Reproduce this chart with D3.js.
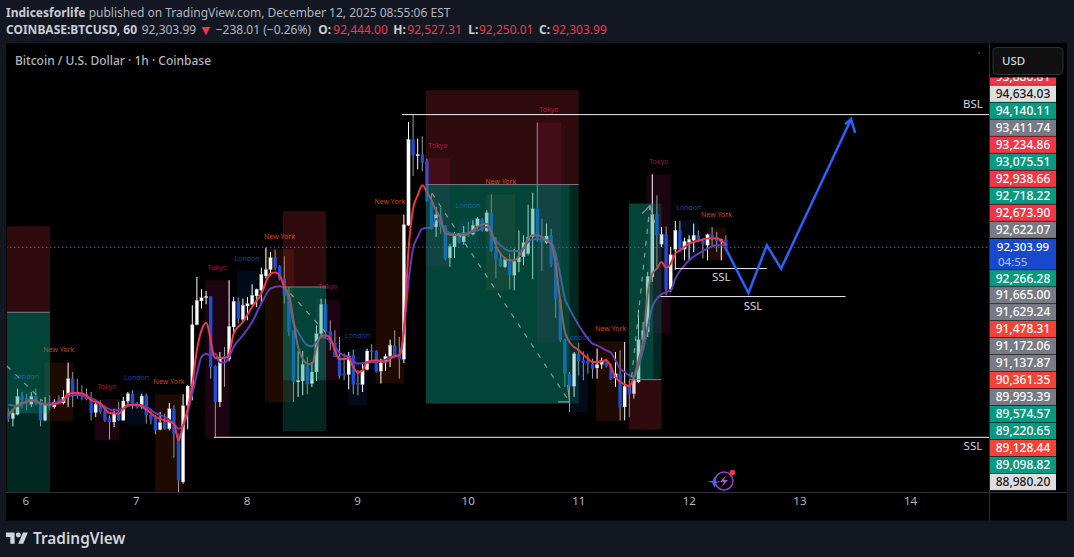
<!DOCTYPE html>
<html><head><meta charset="utf-8">
<script src="https://cdnjs.cloudflare.com/ajax/libs/d3/7.8.5/d3.min.js"></script>
<style>html,body{margin:0;padding:0;background:#131722;overflow:hidden}svg{display:block}text{font-family:"Noto Sans",sans-serif}</style>
</head><body><svg id="c" width="1074" height="557"></svg>
<script>
// ---- candle data (bar index 0 .. 156), USD ----
const highs=[90097,90074,90371,90325,90302,90325,90371,90234,90256,90279,90225,90279,90348,90726,90598,90507,90416,90371,90325,90211,90211,90142,90006,90097,90188,90256,90325,90348,90188,90302,90302,90097,90006,90051,90028,90174,90142,89755,90293,90416,91511,91898,91729,91706,91634,90690,90872,90941,91853,91625,91616,91602,91625,91798,91739,92026,92300,92240,92272,92058,92181,91762,91169,90882,90886,90804,90736,91237,91602,91602,91306,91169,91078,90850,90872,90904,90622,90722,90918,90977,90895,90781,90850,91041,91169,91078,92751,94018,94119,93790,93822,93517,93038,92856,92842,92605,92354,92514,92491,92596,92650,92673,92719,92705,92810,93029,92445,92217,92172,92217,92286,92536,92468,92888,93052,94009,92696,92628,92559,92240,91602,91054,90598,90872,91000,90881,90849,90781,90918,90795,90781,90713,90872,90895,91009,90485,90530,91451,91283,91967,93303,93015,92582,92591,92309,92664,92664,92436,92468,92628,92537,92423,92491,92582,92514,92423,92468];
const bodyTops=[90051,90037,90266,90270,90243,90266,90270,90188,90165,90179,90188,90225,90256,90507,90507,90316,90311,90302,90234,90156,90156,90060,89965,90037,90051,90202,90302,90302,90156,90270,90279,90015,89974,89905,89914,90097,90097,89755,90138,90407,91246,91579,91615,91634,91634,90680,90804,90818,91223,91566,91566,91511,91534,91648,91730,91935,91999,92163,92167,92044,91876,91638,91169,90485,90704,90704,90599,91123,91525,91525,91155,90996,90813,90576,90818,90827,90448,90622,90886,90891,90891,90722,90813,90964,90964,90840,92614,93781,93781,93576,93576,93480,92938,92751,92751,92605,92313,92468,92468,92505,92482,92605,92696,92682,92778,92778,92263,92149,92140,92140,92112,92172,92368,92445,92833,92833,92445,92459,92468,92090,91592,91041,90576,90849,90849,90758,90749,90713,90699,90758,90758,90676,90576,90576,90403,90407,90485,91041,91169,91907,92755,92755,92482,92482,92204,92537,92537,92386,92413,92468,92468,92409,92477,92477,92445,92409,92409];
const bodyBottoms=[89960,89960,90019,90211,90174,90156,90174,89937,89937,90110,90120,90165,90174,90256,90302,90266,90266,90225,90037,90042,90051,89937,89914,89914,89937,89937,90197,90142,90120,90120,90006,89951,89800,89810,89823,89823,89755,89116,89094,90142,90407,91246,91570,91615,90667,90188,90188,90772,90772,91214,91328,91315,91502,91525,91638,91716,91912,91999,92026,91866,91638,91146,90462,90462,90476,90430,90439,90599,91123,91146,90996,90804,90544,90553,90562,90430,90430,90426,90631,90877,90599,90608,90736,90813,90813,90772,90772,92605,93562,93567,93462,92933,92559,92582,92582,92149,92158,92308,92377,92377,92468,92482,92596,92536,92527,92254,92140,92044,92035,91921,91921,92103,92172,92217,92445,92409,92368,92368,92071,91592,91032,90571,90402,90403,90749,90722,90713,90644,90653,90703,90676,90507,90516,90111,90120,90293,90302,90462,91041,91146,91898,92468,92345,91725,91730,92277,92277,92277,92368,92400,92391,92345,92331,92423,92391,92391,92295];
const lows=[89914,89855,90006,90097,90074,90120,90142,89855,89923,90074,90097,90156,90156,90120,90120,90234,90211,90211,89937,89983,90028,89914,89673,89846,89928,89937,90165,90097,90097,90097,89892,89882,89746,89800,89810,89800,89426,88957,89071,89814,90211,91237,91465,91524,90507,89710,90120,90394,90745,91123,91260,91283,91306,91511,91488,91534,91876,91921,91990,91853,91534,91091,90188,90257,90280,90293,90394,90476,91078,91078,90895,90804,90508,90485,90362,90293,90280,90325,90622,90758,90590,90439,90613,90667,90795,90508,90722,92596,93280,93371,93344,92924,92550,92445,92491,92126,92035,92158,92354,92340,92445,92468,92559,92514,92514,92240,91884,92035,92021,91738,91716,91966,92058,92194,91866,92377,91976,92354,92035,91337,91009,90393,90051,90257,90550,90485,90576,90507,90507,90644,90658,90485,90393,89937,89937,89983,90234,90448,91032,91077,91830,92035,92309,91647,91693,91999,92240,92126,92117,92240,92377,92149,92126,92309,92240,92126,92286];
const risingBars=[1,2,5,8,10,12,13,19,23,25,26,29,33,35,38,39,40,41,42,43,46,48,49,51,52,53,54,55,56,57,63,64,66,67,68,74,77,78,81,82,83,86,87,89,93,96,97,99,101,102,104,108,110,111,112,113,114,117,123,128,129,132,134,136,137,138,139,140,142,144,145,147,148,149,152,155];

// ---- moving averages ----
const fastBars=[0,2,3,6,7,9,11,12,13,15,17,18,20,22,24,25,26,28,30,32,34,36,37,38,39,40,41,42,43,45,47,48,49,51,53,55,57,58,59,60,61,62,63,65,66,67,68,69,70,71,72,74,75,76,77,78,80,82,84,85,86,87,88,89,90,91,92,93,94,95,97,99,100,102,104,105,106,107,109,110,112,113,114,115,117,118,119,120,121,122,124,126,127,128,130,131,132,133,134,135,136,137,138,139,140,141,142,143,144,145,146,148,150,152,154,155,156];
const fastValues=[90006,90142,90174,90211,90165,90152,90174,90211,90302,90316,90279,90211,90165,90037,90028,90097,90152,90152,90083,89983,89937,89892,89663,89869,90097,90439,90895,91168,91269,90789,90790,90850,91123,91283,91488,91670,91944,91958,91921,91762,91647,91306,90940,90713,90703,90940,91091,91100,91055,90895,90772,90781,90667,90590,90622,90736,90758,90736,90818,90827,91169,92263,92833,93015,93152,93061,92947,92810,92696,92491,92468,92468,92491,92582,92628,92514,92331,92217,92126,92126,92286,92422,92468,92468,92400,92354,92058,91556,91146,91009,90895,90781,90735,90735,90758,90667,90530,90462,90430,90407,90530,90758,91032,91670,91944,92012,92103,92026,92080,92217,92263,92354,92391,92423,92423,92400,92331];
const slowBars=[0,2,5,7,9,11,12,13,15,17,19,21,23,25,26,28,30,32,34,36,37,38,39,40,41,42,43,44,45,46,47,48,49,51,53,55,57,59,60,61,62,63,65,66,67,68,70,71,72,74,76,78,80,82,84,85,86,87,88,89,90,91,92,93,94,95,97,99,101,103,104,105,106,107,109,111,112,113,114,116,117,118,119,120,121,122,124,126,127,128,130,131,132,133,134,135,136,137,138,139,140,141,142,143,144,145,147,148,150,152,154,156];
const slowValues=[90152,90133,90211,90165,90165,90188,90211,90266,90288,90256,90211,90120,90074,90097,90133,90152,90120,90037,89983,89892,89823,89869,90051,90302,90575,90804,90849,90826,90850,90727,90727,90804,90941,91100,91283,91534,91739,91771,91739,91579,91260,91146,90964,90950,91009,91078,91032,90941,90863,90804,90713,90727,90736,90768,90818,90818,91169,91830,92286,92445,92559,92568,92568,92696,92628,92536,92482,92491,92514,92559,92582,92491,92400,92331,92254,92254,92286,92377,92413,92409,92400,92377,92217,91921,91602,91465,91237,91054,90986,90963,90895,90863,90758,90644,90599,90553,90530,90690,90895,91214,91488,91602,91661,91693,91716,91875,92058,92126,92217,92286,92331,92331];

// ---- session boxes: [name, startBar, endBar, topPrice, bottomPrice] ----
const sessions=[
["London",1.9,6.0,90361,90033],["New York",7.8,14.1,90731,89924],["Tokyo",18.8,24.1,90225,89664],
["London",25.8,30,90348,89883],["New York",31.9,38,90293,88952],["Tokyo",42.8,48,91853,89691],
["London",49.7,54.1,91976,91264],["New York",55.8,62.1,92277,90184],["Tokyo",66.9,72.1,91593,90485],
["London",73.9,78,90922,90143],["New York",79.9,86,92755,90444],["Tokyo",90.8,96,93522,92044],
["London",97.8,102.1,92701,92345],["New York",103.9,110.2,93029,91716],["Tokyo",114.9,120.2,94014,91004],
["London",122,126,90895,90047],["New York",127.8,134.1,91018,89924],["Tokyo",138.8,144,93303,91127],
["London",145.8,150.1,92673,92126],["New York",151.9,156,92578,92126]];
const sessionColors={"Tokyo":"#880e4f","London":"#0d47a1","New York":"#e65100"};
const sessionFill={"Tokyo":0.2,"London":0.16,"New York":0.13};
const sessionText={"Tokyo":"#a3114f","London":"#1744a8","New York":"#d24a00"};

// ---- trade boxes ----
const redZones=[[-0.3,9.07,92591,91415],[59.7,69.1,92797,91761],[90.8,124,94452,93162],[134.9,142,90494,89811]];
const tealZones=[[-0.3,9.07,91415,88952],[59.7,69.1,91761,89791],[90.8,124,93162,90166],[134.9,142,92902,90494]];
const tealInner=[[-0.3,9.07,91415,90033],[59.7,69.1,91761,90485],[90.8,122,93162,90166],[134.9,140.2,92902,90494]];
const dashes=[[[-0.3,90680],[7.5,90200]],[[61.3,91675],[68.9,91145]],[[92.1,93043],[122,90191]],[[135.5,90530],[139.5,92877]]];
const arrowTips=[[[119.5,90191],[122,90191],[121.6,90420]],[[137.8,92765],[139.5,92877],[140.5,92640]]];

// ---- drawn levels and path ----
const levels=[[85.6,213.2,94119],[44.7,213.2,89705],[144.9,164.9,92013],[141.8,182,91630]];
const levelLabels=[["BSL",209.7,94260],["SSL",209.7,89582],["SSL",155,91894],["SSL",161.9,91501]];
const pathBars=[155.8,160.9,164.9,168,183.2];
const pathPrices=[92308,91679,92331,92013,94055];
const headBars=[181.9,183.2,184.1];
const headPrices=[93987,94055,93868];

// ---- axes ----
const dayTicks=[6,7,8,9,10,11,12,13,14];
const lastPrice=92303.99;
const priceTags=[["93,880.81","#f23645","#fff"],["94,634.03","#dedede","#131722"],["94,140.11","#089981","#fff"],["93,411.74","#787b86","#fff"],["93,234.86","#f23645","#fff"],["93,075.51","#089981","#fff"],["92,938.66","#f23645","#fff"],["92,718.22","#089981","#fff"],["92,673.90","#f23645","#fff"],["92,622.07","#787b86","#fff"]];
const priceTagsLow=[["92,266.28","#089981","#fff"],["91,665.00","#787b86","#fff"],["91,629.24","#787b86","#fff"],["91,478.31","#f44336","#fff"],["91,172.06","#787b86","#fff"],["91,137.87","#787b86","#fff"],["90,361.35","#f44336","#fff"],["89,993.39","#787b86","#fff"],["89,574.57","#089981","#fff"],["89,220.65","#089981","#fff"],["89,128.44","#f44336","#fff"],["89,098.82","#089981","#fff"],["88,980.20","#dedede","#131722"]];

// ---- header texts ----
const headerRow=[["COINBASE:BTCUSD, 60",6,"#c9ccd4",700],["92,303.99",141.7,"#b2b5be",400],["−238.01 (−0.26%)",215.7,"#b2b5be",400],["O:",318.3,"#c9ccd4",700],["92,444.00",333.3,"#f23645",400],["H:",393.3,"#c9ccd4",700],["92,527.31",407.3,"#f23645",400],["L:",468.3,"#c9ccd4",700],["92,250.01",479,"#f23645",400],["C:",539,"#c9ccd4",700],["92,303.99",552.3,"#f23645",400]];

const svg=d3.select("#c");
const W=1074,H=557,L=6,R=989.5,T=43,B=492.5;
const x=d3.scaleLinear().domain([0,156]).range([8.3,8.3+156*4.6]);
const y=d3.scaleLinear().domain([lastPrice,88980.2]).range([247.3,490.3]);
const dayX=d3.scaleLinear().domain([6,14]).range([25.3,910]);

svg.append("rect").attr("width",W).attr("height",H).attr("fill","#131722");
svg.append("rect").attr("x",L).attr("y",T).attr("width",1067-L).attr("height",520.5-T).attr("fill","#000");
const defs=svg.append("defs");
defs.append("clipPath").attr("id","plot").append("rect").attr("x",L+1).attr("y",T).attr("width",R-L-1).attr("height",B-T);
defs.append("clipPath").attr("id","tags").append("rect").attr("x",990).attr("y",77.5).attr("width",67).attr("height",420);

const g=svg.append("g").attr("clip-path","url(#plot)");
g.append("line").attr("x1",L).attr("x2",R).attr("y1",y(lastPrice)).attr("y2",y(lastPrice))
 .attr("stroke","#2962ff").attr("stroke-width",1).attr("stroke-dasharray","1.5 2.5");
g.selectAll(".s").data(sessions).join("rect").attr("x",d=>x(d[1])).attr("width",d=>x(d[2])-x(d[1]))
 .attr("y",d=>y(d[3])).attr("height",d=>y(d[4])-y(d[3])).attr("fill",d=>sessionColors[d[0]]).attr("fill-opacity",d=>sessionFill[d[0]]);
g.selectAll(".sl").data(sessions).join("text").attr("x",d=>(x(d[1])+x(d[2]))/2).attr("y",d=>y(d[3])-10)
 .attr("text-anchor","middle").attr("font-size",7).attr("fill",d=>sessionText[d[0]]).text(d=>d[0]);
const bars=d3.range(highs.length).map(i=>({i,h:highs[i],t:bodyTops[i],b:bodyBottoms[i],l:lows[i],up:risingBars.includes(i)}));
g.selectAll(".w").data(bars).join("line").attr("x1",d=>x(d.i)).attr("x2",d=>x(d.i)).attr("y1",d=>y(d.h)).attr("y2",d=>y(d.l))
 .attr("stroke",d=>d.up?"#ffffff":"#9a9a9a").attr("stroke-width",1);
g.selectAll(".b").data(bars).join("rect").attr("x",d=>x(d.i)-1.7).attr("width",3.4).attr("y",d=>y(d.t)).attr("height",d=>Math.max(1.5,y(d.b)-y(d.t)))
 .attr("fill",d=>d.up?"#ffffff":"#1a4fd6").attr("stroke",d=>d.up?"#8a8a8a":"none").attr("stroke-width",0.3);
const ln=d3.line().x(d=>x(d[0])).y(d=>y(d[1])).curve(d3.curveMonotoneX);
g.append("path").attr("d",ln(slowBars.map((b,i)=>[b,slowValues[i]]))).attr("fill","none").attr("stroke","#673ab7").attr("stroke-width",2);
g.append("path").attr("d",ln(fastBars.map((b,i)=>[b,fastValues[i]]))).attr("fill","none").attr("stroke","#f23645").attr("stroke-width",2);
const box=(data,c,o)=>g.append("g").selectAll("rect").data(data).join("rect").attr("x",d=>x(d[0])).attr("width",d=>x(d[1])-x(d[0]))
 .attr("y",d=>y(d[2])).attr("height",d=>y(d[3])-y(d[2])).attr("fill",c).attr("fill-opacity",o);
box(redZones,"#f23645",0.2);
box(tealZones,"#089981",0.25);
box(tealInner,"#089981",0.26);
g.selectAll(".mid").data(tealZones).join("line").attr("x1",d=>x(d[0])).attr("x2",d=>x(d[1]))
 .attr("y1",(d,i)=>i==3?y(d[3]):y(d[2])).attr("y2",(d,i)=>i==3?y(d[3]):y(d[2])).attr("stroke","#787b86").attr("stroke-width",1);
const plain=d3.line().x(d=>x(d[0])).y(d=>y(d[1]));
g.selectAll(".d").data(dashes).join("path").attr("d",plain).attr("fill","none").attr("stroke","#8a9a98").attr("stroke-width",1.2).attr("stroke-dasharray","5 7");
g.selectAll(".a").data(arrowTips).join("path").attr("d",plain).attr("fill","none").attr("stroke","#8a9a98").attr("stroke-width",1.2);
g.selectAll(".lv").data(levels).join("line").attr("x1",d=>x(d[0])).attr("x2",d=>x(d[1])).attr("y1",d=>y(d[2])).attr("y2",d=>y(d[2])).attr("stroke","#f0f0f0").attr("stroke-width",1);
g.selectAll(".lt").data(levelLabels).join("text").attr("x",d=>x(d[1])).attr("y",d=>y(d[2])+4).attr("text-anchor","middle").attr("font-size",11.5).attr("fill","#d1d4dc").text(d=>d[0]);
g.append("path").attr("d",plain(pathBars.map((b,i)=>[b,pathPrices[i]]))).attr("fill","none").attr("stroke","#2962ff").attr("stroke-width",2.5);
g.append("path").attr("d",plain(headBars.map((b,i)=>[b,headPrices[i]]))).attr("fill","none").attr("stroke","#2962ff").attr("stroke-width",2.5);

svg.append("line").attr("x1",L).attr("x2",1067).attr("y1",B).attr("y2",B).attr("stroke","#2a2e39");
svg.append("line").attr("x1",R).attr("x2",R).attr("y1",T).attr("y2",520.5).attr("stroke","#2a2e39");

const xAxis=d3.axisBottom(dayX).tickValues(dayTicks).tickFormat(d3.format("d")).tickSize(0).tickPadding(0);
const ax=svg.append("g").attr("transform","translate(0,497)").call(xAxis);
ax.select(".domain").remove();
ax.selectAll("text").attr("font-size",11.5).attr("fill","#b2b5be").attr("font-family",'"Noto Sans",sans-serif');

const tags=svg.append("g").attr("clip-path","url(#tags)");
const tagRow=(sel,data,cy)=>{
 const r=sel.selectAll(null).data(data).join("g").attr("transform",(d,i)=>`translate(990,${cy(i)})`);
 r.append("rect").attr("y",-8.2).attr("width",66).attr("height",16.4).attr("fill",d=>d[1]);
 r.append("text").attr("x",33).attr("y",4.2).attr("text-anchor","middle").attr("font-size",12).attr("font-weight",500).attr("fill",d=>d[2]).text(d=>d[0]);
};
tagRow(tags,priceTags,i=>76.7+i*17);
tagRow(tags,priceTagsLow,i=>278.3+i*16.97);
const lp=svg.append("g").attr("transform","translate(990,239)");
lp.append("rect").attr("width",66).attr("height",30.6).attr("fill","#1848cc");
lp.append("text").attr("x",33).attr("y",11.5).attr("text-anchor","middle").attr("font-size",11.5).attr("font-weight",500).attr("fill","#fff").text(d3.format(",.2f")(lastPrice));
lp.append("text").attr("x",8).attr("y",26.5).attr("font-size",11.5).attr("fill","#b9c7f2").text("04:55");

svg.append("rect").attr("x",993).attr("y",47.5).attr("width",70).attr("height",27).attr("rx",4).attr("fill","#101010").attr("stroke","#2f2f2f");
svg.append("text").attr("x",1002).attr("y",65).attr("font-size",11.5).attr("font-weight",500).attr("fill","#d1d4dc").text("USD");

svg.append("text").attr("x",15).attr("y",64.5).attr("font-size",12).attr("font-weight",500).attr("fill","#b2b5be").text("Bitcoin / U.S. Dollar · 1h · Coinbase");
const l1=svg.append("text").attr("x",6).attr("y",17).attr("font-size",12).attr("fill","#b2b5be");
l1.append("tspan").attr("font-weight",700).attr("fill","#c9ccd4").text("Indicesforlife");
l1.append("tspan").text(" published on TradingView.com, December 12, 2025 08:55:06 EST");
svg.selectAll(".hr").data(headerRow).join("text").attr("x",d=>d[1]).attr("y",34).attr("font-size",12).attr("fill",d=>d[2]).attr("font-weight",d=>d[3]).text(d=>d[0]);
svg.append("text").attr("x",201.5).attr("y",34).attr("font-size",11).style("font-family","'DejaVu Sans'").attr("fill","#f23645").text("▼");

const logo=svg.append("g").attr("transform","translate(6,532.6) scale(0.615)").attr("fill","#d1d4dc");
logo.append("path").attr("d","M14 18H7V7H0V0h14v18zM28 18h-8L27.5 0h8L28 18z");
logo.append("circle").attr("cx",20).attr("cy",4).attr("r",4);
svg.append("text").attr("x",33).attr("y",544).attr("font-size",15.4).attr("font-weight",600).attr("fill","#d1d4dc").text("TradingView");

const ic=svg.append("g").attr("transform","translate(724,481)");
ic.append("circle").attr("r",9).attr("fill","none").attr("stroke","#9c3fc4").attr("stroke-width",1.5);
ic.append("path").attr("d","M2.5-6L-4 1H0L-2.5 6L4-1H0Z").attr("fill","#b04fd6");
ic.append("path").attr("d","M-9-4.5L-7 0.5L-2 0L-7 2L-9 7L-11 2L-16 0L-11 0Z").attr("fill","#4f5de0").attr("transform","translate(-0.5,0)");
ic.append("circle").attr("cx",8.5).attr("cy",-8.5).attr("r",2.8).attr("fill","#f23645");
svg.append("circle").attr("cx",979).attr("cy",53).attr("r",0.8).attr("fill","#787b86");
</script></body></html>
